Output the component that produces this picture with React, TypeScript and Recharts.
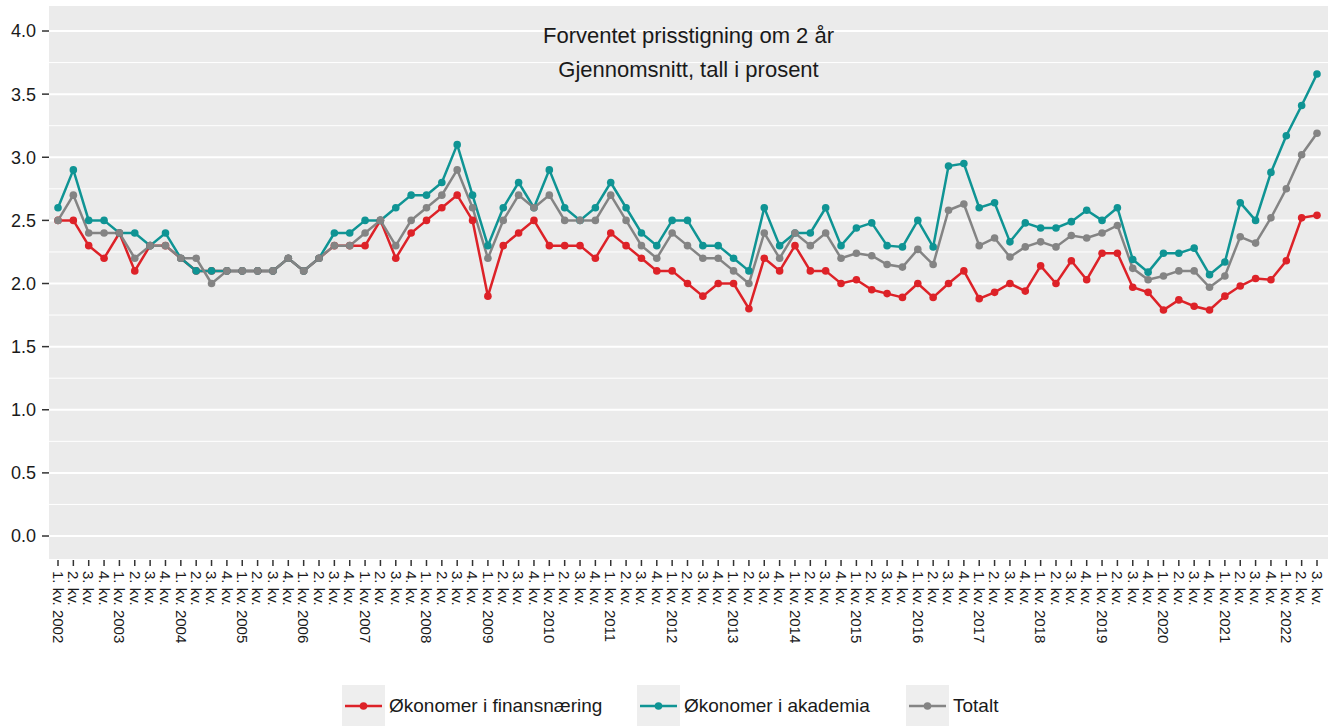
import React from 'react';
import {
  LineChart,
  Line,
  XAxis,
  YAxis,
  CartesianGrid,
  ReferenceLine,
  Legend
} from 'recharts';

const years = [2002, 2003, 2004, 2005, 2006, 2007, 2008, 2009, 2010, 2011, 2012, 2013, 2014, 2015, 2016, 2017, 2018, 2019, 2020, 2021, 2022];
const quarters = ['1. kv.', '2. kv.', '3. kv.', '4. kv.'];

const finans = [
  2.5, 2.5, 2.3, 2.2, 2.4, 2.1, 2.3, 2.3, 2.2, 2.1, 2.1, 2.1, 2.1, 2.1, 2.1, 2.2,
  2.1, 2.2, 2.3, 2.3, 2.3, 2.5, 2.2, 2.4, 2.5, 2.6, 2.7, 2.5, 1.9, 2.3, 2.4, 2.5,
  2.3, 2.3, 2.3, 2.2, 2.4, 2.3, 2.2, 2.1, 2.1, 2.0, 1.9, 2.0, 2.0, 1.8, 2.2, 2.1,
  2.3, 2.1, 2.1, 2.0, 2.03, 1.95, 1.92, 1.89, 2.0, 1.89, 2.0, 2.1, 1.88, 1.93, 2.0, 1.94,
  2.14, 2.0, 2.18, 2.03, 2.24, 2.24, 1.97, 1.93, 1.79, 1.87, 1.82, 1.79, 1.9, 1.98, 2.04, 2.03,
  2.18, 2.52, 2.54
];

const akademia = [
  2.6, 2.9, 2.5, 2.5, 2.4, 2.4, 2.3, 2.4, 2.2, 2.1, 2.1, 2.1, 2.1, 2.1, 2.1, 2.2,
  2.1, 2.2, 2.4, 2.4, 2.5, 2.5, 2.6, 2.7, 2.7, 2.8, 3.1, 2.7, 2.3, 2.6, 2.8, 2.6,
  2.9, 2.6, 2.5, 2.6, 2.8, 2.6, 2.4, 2.3, 2.5, 2.5, 2.3, 2.3, 2.2, 2.1, 2.6, 2.3,
  2.4, 2.4, 2.6, 2.3, 2.44, 2.48, 2.3, 2.29, 2.5, 2.29, 2.93, 2.95, 2.6, 2.64, 2.33, 2.48,
  2.44, 2.44, 2.49, 2.58, 2.5, 2.6, 2.19, 2.09, 2.24, 2.24, 2.28, 2.07, 2.17, 2.64, 2.5, 2.88,
  3.17, 3.41, 3.66
];

const totalt = [
  2.5, 2.7, 2.4, 2.4, 2.4, 2.2, 2.3, 2.3, 2.2, 2.2, 2.0, 2.1, 2.1, 2.1, 2.1, 2.2,
  2.1, 2.2, 2.3, 2.3, 2.4, 2.5, 2.3, 2.5, 2.6, 2.7, 2.9, 2.6, 2.2, 2.5, 2.7, 2.6,
  2.7, 2.5, 2.5, 2.5, 2.7, 2.5, 2.3, 2.2, 2.4, 2.3, 2.2, 2.2, 2.1, 2.0, 2.4, 2.2,
  2.4, 2.3, 2.4, 2.2, 2.24, 2.22, 2.15, 2.13, 2.27, 2.15, 2.58, 2.63, 2.3, 2.36, 2.21, 2.29,
  2.33, 2.29, 2.38, 2.36, 2.4, 2.46, 2.12, 2.03, 2.06, 2.1, 2.1, 1.97, 2.06, 2.37, 2.32, 2.52,
  2.75, 3.02, 3.19
];

const yTicks = [0, 0.5, 1, 1.5, 2, 2.5, 3, 3.5, 4];
const yMinor = [0.25, 0.75, 1.25, 1.75, 2.25, 2.75, 3.25, 3.75];

const titleLines = ['Forventet prisstigning om 2 år', 'Gjennomsnitt, tall i prosent'];

const series = [
  { key: 'finans', name: 'Økonomer i finansnæring', color: '#dd2228' },
  { key: 'akademia', name: 'Økonomer i akademia', color: '#0f9494' },
  { key: 'totalt', name: 'Totalt', color: '#848484' }
];

const labels: string[] = [];
years.forEach((yr) => quarters.forEach((q) => labels.push(q === '1. kv.' ? `${q} ${yr}` : q)));

const data = finans.map((v, i) => ({
  label: labels[i],
  finans: v,
  akademia: akademia[i],
  totalt: totalt[i]
}));

const yearStarts = data.filter((d) => d.label.length > 6).map((d) => d.label);

const FONT = '"Liberation Sans", Arial, sans-serif';
const TEXT = '#1a1a1a';

const XTick = (props: any) => {
  const { x, y, payload } = props;
  return (
    <text
      transform={`translate(${x},${y + 3}) rotate(90)`}
      textAnchor="start"
      dy="0.35em"
      fontSize={15}
      fontFamily={FONT}
      fill={TEXT}
    >
      {payload.value}
    </text>
  );
};

const LegendBox = () => {
  const lefts = [342, 637, 906];
  return (
    <div style={{ position: 'relative', width: 1333, height: 41, fontFamily: FONT }}>
      {series.map((s, i) => (
        <div key={s.key} style={{ position: 'absolute', left: lefts[i], top: 0, height: 41, display: 'flex', alignItems: 'center' }}>
          <svg width={43} height={41} style={{ background: '#eeeeee' }}>
            <line x1={3} x2={40} y1={21} y2={21} stroke={s.color} strokeWidth={2.5} />
            <circle cx={21.5} cy={21} r={3.8} fill={s.color} />
          </svg>
          <span style={{ marginLeft: 4, fontSize: 19, color: TEXT, whiteSpace: 'nowrap' }}>{s.name}</span>
        </div>
      ))}
    </div>
  );
};

export default function App() {
  return (
    <div style={{ position: 'absolute', left: 0, top: 0, width: 1333, height: 726, background: '#fff' }}>
      <LineChart width={1333} height={726} data={data} margin={{ top: 5, right: 5, left: 0, bottom: 0 }}>
        <CartesianGrid fill="#ebebeb" stroke="#ffffff" strokeWidth={2} vertical={false} />
        {yMinor.map((v) => (
          <ReferenceLine key={`m${v}`} y={v} stroke="#ffffff" strokeWidth={1} />
        ))}
        {yearStarts.map((l) => (
          <ReferenceLine key={l} x={l} stroke="#ffffff" strokeWidth={2} />
        ))}
        <XAxis
          dataKey="label"
          type="category"
          interval={0}
          padding={{ left: 9, right: 11 }}
          height={125}
          axisLine={false}
          tickSize={6}
          tickLine={{ stroke: '#333333', strokeWidth: 1.5 }}
          tick={<XTick />}
        />
        <YAxis
          type="number"
          domain={[-0.19, 4.206]}
          allowDataOverflow
          ticks={yTicks}
          tickFormatter={(v: number) => v.toFixed(1)}
          width={49}
          axisLine={false}
          tickSize={7}
          tickMargin={6}
          tickLine={{ stroke: '#333333', strokeWidth: 1.5 }}
          tick={{ fontSize: 18, fill: TEXT, fontFamily: FONT }}
        />
        {series.map((s) => (
          <Line
            key={s.key}
            type="linear"
            dataKey={s.key}
            name={s.name}
            stroke={s.color}
            strokeWidth={2.5}
            dot={{ r: 3.8, fill: s.color, stroke: s.color, strokeWidth: 0 }}
            activeDot={false}
            isAnimationActive={false}
          />
        ))}
        <Legend
          verticalAlign="bottom"
          content={() => <LegendBox />}
          wrapperStyle={{ left: 0, bottom: 0, width: 1333, height: 41 }}
        />
      </LineChart>
      <svg width={1333} height={100} style={{ position: 'absolute', left: 0, top: 0, pointerEvents: 'none' }}>
        {titleLines.map((t, i) => (
          <text key={t} x={688.5} y={43 + i * 34} textAnchor="middle" fontSize={22} fontFamily={FONT} fill={TEXT}>
            {t}
          </text>
        ))}
      </svg>
    </div>
  );
}
